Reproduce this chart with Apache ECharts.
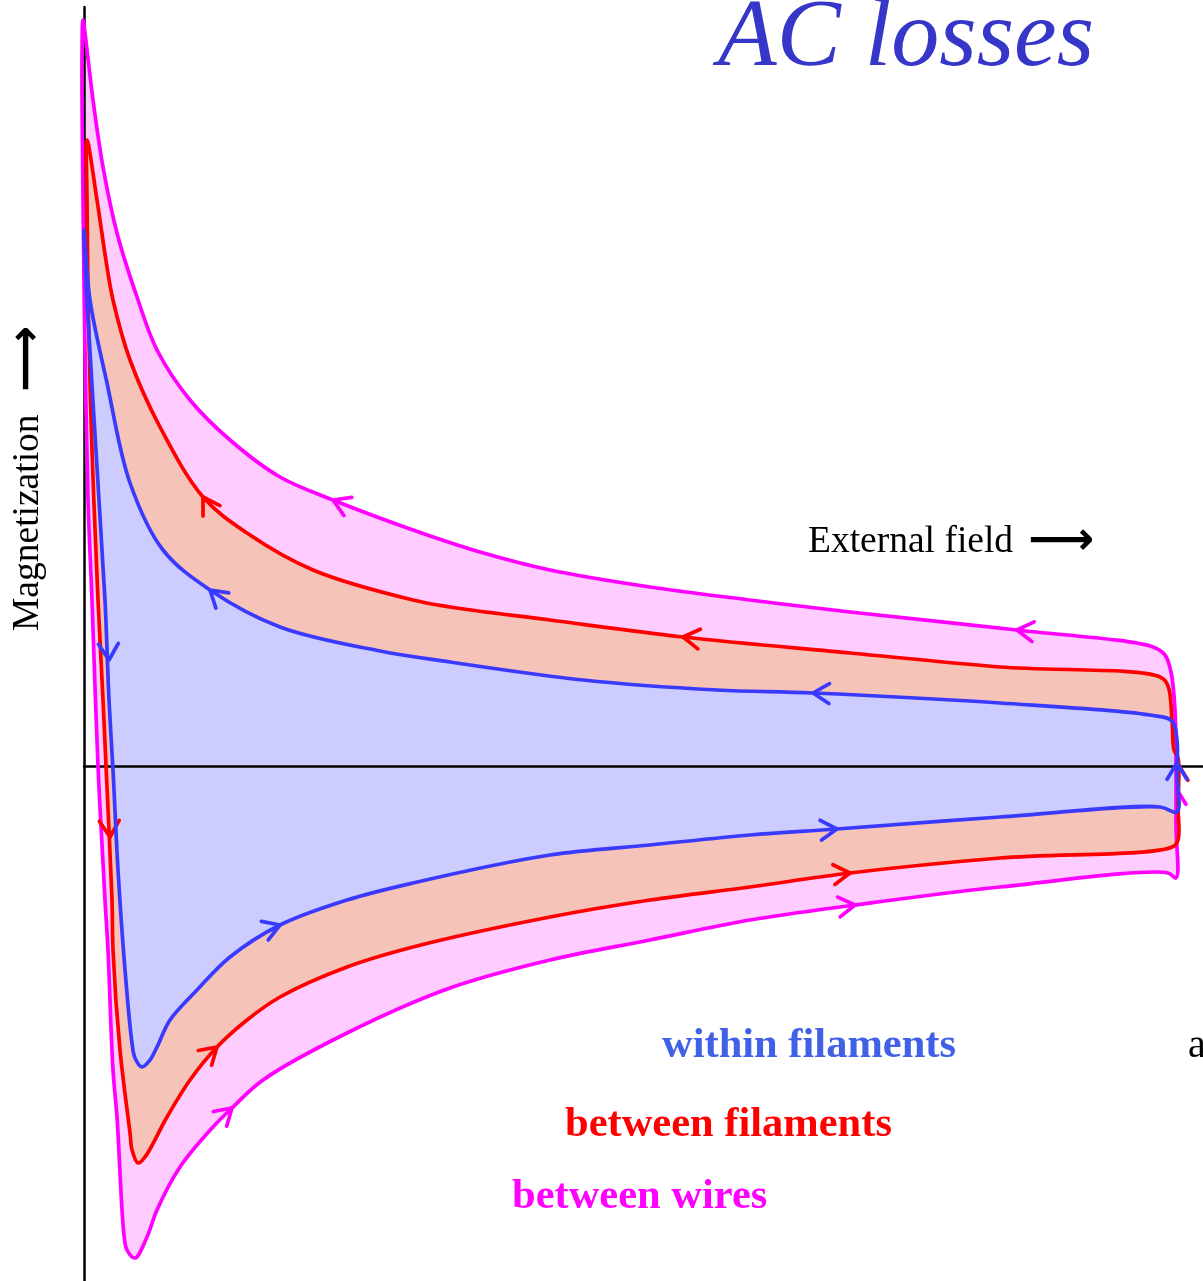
<!DOCTYPE html>
<html>
<head>
<meta charset="utf-8">
<script src="https://cdn.jsdelivr.net/npm/echarts@6/dist/echarts.min.js"></script>
<style>
html,body{margin:0;padding:0;background:#fff;}
#chartmain{width:1203px;height:1281px;}
</style>
</head>
<body>
<div id="chartmain"></div>
<script>
// hysteresis loops, [external field, magnetization]
var wiresLoop=[[-0.01,7.46],[0.01,7.33],[0.09,6.66],[0.19,5.99],[0.33,5.33],[0.54,4.66],[0.73,4.16],[1.06,3.66],[1.46,3.26],[1.96,2.89],[2.49,2.66],[3.29,2.36],[3.96,2.14],[4.66,1.96],[5.66,1.79],[6.66,1.66],[7.66,1.54],[9.33,1.36],[10.69,1.19],[10.81,1.11],[10.87,0.94],[10.91,0.56],[10.92,0.06],[10.92,-0.60],[10.92,-1.12],[10.84,-1.07],[9.16,-1.21],[7.71,-1.39],[6.66,-1.54],[5.66,-1.74],[4.66,-1.94],[3.66,-2.22],[2.63,-2.67],[1.79,-3.14],[1.48,-3.42],[1.29,-3.61],[0.96,-4.01],[0.73,-4.44],[0.63,-4.71],[0.51,-4.92],[0.43,-4.84],[0.40,-4.69],[0.33,-3.51],[0.29,-3.04],[0.24,-1.84],[0.21,-1.34],[0.14,0.00],[0.08,1.66],[0.04,2.66],[0.01,4.16],[-0.01,5.66],[-0.02,7.06]];
var filamentsLoop=[[0.03,6.26],[0.13,5.66],[0.23,4.99],[0.29,4.66],[0.46,4.06],[0.76,3.39],[1.19,2.69],[1.63,2.33],[2.29,1.96],[3.29,1.66],[3.66,1.59],[4.66,1.46],[5.99,1.29],[7.66,1.13],[9.16,0.99],[10.76,0.89],[10.84,0.80],[10.88,0.46],[10.90,0.16],[10.94,0.08],[10.94,-0.40],[10.94,-0.74],[10.88,-0.81],[9.16,-0.92],[7.66,-1.07],[6.66,-1.21],[5.66,-1.34],[4.66,-1.51],[3.29,-1.81],[2.63,-2.01],[1.96,-2.31],[1.63,-2.54],[1.33,-2.81],[1.06,-3.14],[0.83,-3.51],[0.61,-3.91],[0.54,-3.97],[0.48,-3.84],[0.46,-3.67],[0.36,-2.84],[0.29,-1.84],[0.28,-1.34],[0.22,0.00],[0.19,0.66],[0.14,1.66],[0.08,3.16],[0.04,4.66],[0.03,5.66]];
var withinLoop=[[0.00,5.36],[0.06,4.66],[0.23,3.83],[0.46,2.83],[0.79,2.16],[1.26,1.76],[1.96,1.39],[2.96,1.15],[3.66,1.04],[4.99,0.86],[6.33,0.76],[7.29,0.73],[9.16,0.63],[10.66,0.51],[10.88,0.45],[10.93,0.26],[10.93,-0.10],[10.93,-0.46],[10.76,-0.41],[9.16,-0.51],[7.53,-0.63],[6.66,-0.69],[5.66,-0.79],[4.66,-0.89],[3.29,-1.17],[2.63,-1.34],[1.96,-1.59],[1.46,-1.91],[1.13,-2.24],[0.86,-2.54],[0.73,-2.81],[0.66,-2.94],[0.58,-3.01],[0.51,-2.92],[0.48,-2.77],[0.41,-2.04],[0.34,-1.04],[0.29,-0.04],[0.25,0.66],[0.21,1.66],[0.13,2.99],[0.03,4.66]];

// arrow heads sitting on each loop (direction follows the loop)
var wiresArrows=[[2.49,2.66],[9.33,1.36],[7.71,-1.39],[1.48,-3.42]];
var wiresTicks=[[10.92,-0.22]];
var filamentsArrows=[[1.19,2.69],[5.99,1.29],[7.66,-1.07],[1.33,-2.81],[0.26,-0.71]];
var filamentsTicks=[[10.94,0.02]];
var withinArrows=[[1.26,1.76],[7.29,0.73],[7.53,-0.63],[1.96,-1.59],[0.25,1.06],[10.93,0.03]];

var loopNames=['between wires','between filaments','within filaments'];
var lineColors=['#ff00ff','#ff0000','#3a3aff'];
var fillColors=['#ffccff','#f5c3b8','#ccccff'];
var loops=[wiresLoop,filamentsLoop,withinLoop];
var arrows=[wiresArrows,filamentsArrows,withinArrows];
var ticks=[wiresTicks,filamentsTicks,[]];

// closed centripetal catmull-rom through the pixel points, as svg path
function loopPath(p){
	var n=p.length,s='M'+p[0][0]+' '+p[0][1];
	function d(a,b){return Math.pow(Math.hypot(b[0]-a[0],b[1]-a[1]),0.5)||1e-4;}
	for(var i=0;i<n;i++){
		var p0=p[(i-1+n)%n],p1=p[i],p2=p[(i+1)%n],p3=p[(i+2)%n];
		var d01=d(p0,p1),d12=d(p1,p2),d23=d(p2,p3);
		var c1=[],c2=[];
		for(var j=0;j<2;j++){
			var m1=(p1[j]-p0[j])/d01-(p2[j]-p0[j])/(d01+d12)+(p2[j]-p1[j])/d12;
			var m2=(p2[j]-p1[j])/d12-(p3[j]-p1[j])/(d12+d23)+(p3[j]-p2[j])/d23;
			c1[j]=p1[j]+m1*d12/3;
			c2[j]=p2[j]-m2*d12/3;
		}
		s+=' C'+c1[0]+' '+c1[1]+' '+c2[0]+' '+c2[1]+' '+p2[0]+' '+p2[1];
	}
	return s+' Z';
}
function dirAt(p,q){
	// direction of travel: reverse of the point order
	var best=1e9,dx=0,dy=0;
	for(var j=0;j<p.length;j++){
		var a=p[j],b=p[(j+1)%p.length];
		var vx=b[0]-a[0],vy=b[1]-a[1],l2=vx*vx+vy*vy||1;
		var t=((q[0]-a[0])*vx+(q[1]-a[1])*vy)/l2;
		t=Math.max(0,Math.min(1,t));
		var ex=a[0]+t*vx-q[0],ey=a[1]+t*vy-q[1],dd=ex*ex+ey*ey;
		if(dd<best){best=dd;dx=-vx;dy=-vy;}
	}
	var l=Math.sqrt(dx*dx+dy*dy)||1;
	return [dx/l,dy/l];
}
function arm(tip,dir,ang){
	var bx=-dir[0],by=-dir[1],c=Math.cos(ang),s=Math.sin(ang);
	return [tip[0]+19*(bx*c-by*s),tip[1]+19*(bx*s+by*c)];
}
function fillItem(k){
	return function(params,api){
		var p=loops[k].map(function(d){return api.coord(d);});
		return {type:'path',silent:true,shape:{pathData:loopPath(p)},style:{fill:fillColors[k],stroke:null}};
	};
}
function lineItem(k){
	return function(params,api){
		var p=loops[k].map(function(d){return api.coord(d);});
		var st={fill:'none',stroke:lineColors[k],lineWidth:3.7,lineJoin:'round',lineCap:'round'};
		var kids=[{type:'path',shape:{pathData:loopPath(p)},style:st}];
		arrows[k].forEach(function(a){
			var tip=api.coord(a),dir=dirAt(p,tip);
			kids.push({type:'polyline',shape:{points:[arm(tip,dir,0.55),tip,arm(tip,dir,-0.55)]},style:st});
		});
		ticks[k].forEach(function(a){
			var tip=api.coord(a),dir=dirAt(p,tip);
			var e1=arm(tip,dir,0.55),e2=arm(tip,dir,-0.55);
			kids.push({type:'polyline',shape:{points:[tip,e1[0]>e2[0]?e1:e2]},style:st});
		});
		return {type:'group',silent:true,children:kids};
	};
}

var series=[];
for(var k=0;k<3;k++){
	series.push({name:loopNames[k],type:'custom',z:0,data:[[0,0]],renderItem:fillItem(k)});
}
for(var k=0;k<3;k++){
	series.push({name:loopNames[k],type:'custom',z:3,data:[[0,0]],renderItem:lineItem(k)});
}

var serif='"Liberation Serif","Times New Roman",serif';
option={
	animation:false,
	backgroundColor:'#fff',
	grid:{left:84,right:0,top:7,bottom:0},
	xAxis:{type:'value',min:0,max:11.19,z:1,
		axisLine:{show:true,onZero:true,lineStyle:{color:'#000',width:2.5}},
		axisTick:{show:false},axisLabel:{show:false},splitLine:{show:false}},
	yAxis:{type:'value',min:-5.15,max:7.59,z:1,
		axisLine:{show:true,onZero:false,lineStyle:{color:'#000',width:2.5}},
		axisTick:{show:false},axisLabel:{show:false},splitLine:{show:false}},
	graphic:[
		{type:'text',x:718,y:40,z:10,style:{text:'AC losses',font:'italic 96px '+serif,fill:'#3636c8',align:'left',verticalAlign:'middle'}},
		{type:'text',x:808,y:542,z:10,style:{text:'External field',font:'37.5px '+serif,fill:'#000',align:'left',verticalAlign:'middle'}},
		{type:'text',x:1028,y:542,z:10,style:{text:'⟶',font:'bold 46px "DejaVu Sans"',fill:'#000',align:'left',verticalAlign:'middle'}},
		{type:'text',x:28,y:631,z:10,rotation:Math.PI/2,style:{text:'Magnetization',font:'37.5px '+serif,fill:'#000',align:'left',verticalAlign:'middle'}},
		{type:'text',x:28,y:392,z:10,rotation:Math.PI/2,style:{text:'⟶',font:'bold 46px "DejaVu Sans"',fill:'#000',align:'left',verticalAlign:'middle'}},
		{type:'text',x:662,y:1046,z:10,style:{text:'within filaments',font:'bold 42.5px '+serif,fill:'#4060e6',align:'left',verticalAlign:'middle'}},
		{type:'text',x:565,y:1125,z:10,style:{text:'between filaments',font:'bold 42.5px '+serif,fill:'#ff0000',align:'left',verticalAlign:'middle'}},
		{type:'text',x:512,y:1197,z:10,style:{text:'between wires',font:'bold 42.5px '+serif,fill:'#ff00ff',align:'left',verticalAlign:'middle'}},
		{type:'text',x:1188,y:1046,z:10,style:{text:'a',font:'40px '+serif,fill:'#000',align:'left',verticalAlign:'middle'}}
	],
	series:series
};
var myChart=echarts.init(document.getElementById('chartmain'));
myChart.setOption(option);
</script>
</body>
</html>
